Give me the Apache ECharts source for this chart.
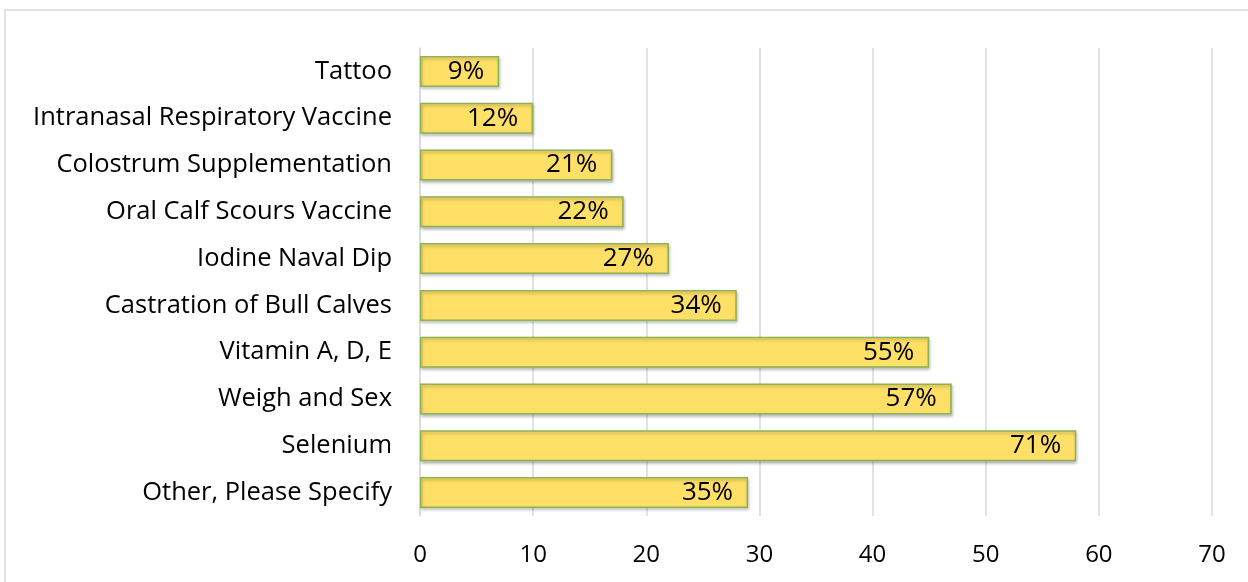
<!DOCTYPE html>
<html><head><meta charset="utf-8">
<script src="https://cdn.jsdelivr.net/npm/echarts@6/dist/echarts.min.js"></script>
<style>html,body{margin:0;padding:0;background:#fff}#c{width:1248px;height:582px}</style>
</head><body><div id="c"></div>
<script>
const categories = ["Tattoo","Intranasal Respiratory Vaccine","Colostrum Supplementation","Oral Calf Scours Vaccine","Iodine Naval Dip","Castration of Bull Calves","Vitamin A, D, E","Weigh and Sex","Selenium","Other, Please Specify"];
const counts = [7,10,17,18,22,28,45,47,58,29];
const percentLabels = ["9%","12%","21%","22%","27%","34%","55%","57%","71%","35%"];
const xTicks = {min:0, max:70, interval:10};

const chart = echarts.init(document.getElementById('c'));
chart.setOption({
  animation:false,
  backgroundColor:'#fff',
  graphic:[{type:'rect',shape:{x:5,y:10,width:1300,height:600},style:{fill:'none',stroke:'#d9d9d9',lineWidth:1.5},silent:true}],
  grid:{left:420,right:36,top:48,bottom:66,containLabel:false},
  xAxis:{type:'value',min:xTicks.min,max:xTicks.max,interval:xTicks.interval,
    axisLine:{show:false},axisTick:{show:false},
    splitLine:{show:true,lineStyle:{color:'#d9d9d9',width:1.5}},
    axisLabel:{color:'#000',fontSize:24,fontFamily:'Open Sans',margin:27}},
  yAxis:{type:'category',data:categories,inverse:true,
    axisLine:{show:true,lineStyle:{color:'#d9d9d9',width:1.5}},axisTick:{show:false},
    axisLabel:{color:'#000',fontSize:25.5,fontFamily:'Open Sans',margin:28}},
  series:[{type:'bar',data:counts,barWidth:31,
    itemStyle:{color:'#FFE066',borderColor:'#8CB356',borderWidth:1.5,shadowColor:'rgba(0,0,0,0.25)',shadowBlur:3,shadowOffsetX:1,shadowOffsetY:2},
    label:{show:true,position:'insideRight',distance:15,color:'#000',fontSize:26,fontFamily:'Open Sans',
      formatter:p=>percentLabels[p.dataIndex]}}]
});
</script></body></html>
